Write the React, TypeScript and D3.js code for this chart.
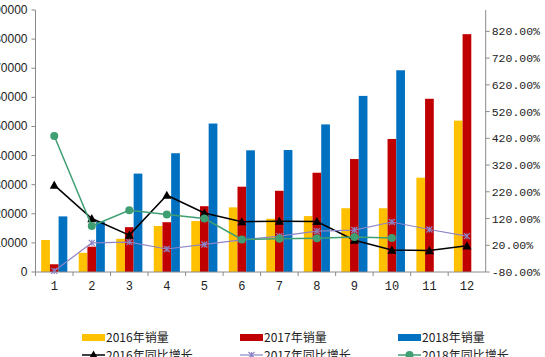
import React from "react";
import * as d3 from "d3";

const months = ["1", "2", "3", "4", "5", "6", "7", "8", "9", "10", "11", "12"];
const sales2016 = [11000, 6600, 11400, 15800, 17500, 22200, 18300, 19200, 21900, 21900, 32400, 52000];
const sales2017 = [2650, 8700, 15400, 17100, 22600, 29300, 27900, 34100, 38800, 45700, 59500, 81700];
const sales2018: (number | null)[] = [19100, 17300, 33800, 40800, 51000, 41800, 41900, 50700, 60500, 69300, null, null];
const growth2016 = [245, 120, 58, 207, 141, 108, 110, 109, 39, 2, 0, 18];
const growth2017 = [-76, 29, 32, 6, 23, 40, 54, 73, 77, 107, 79, 54];
const growth2018: (number | null)[] = [429, 92, 151, 135, 120, 42, 44, 46, 51, 47, null, null];
const leftTicks = [0, 10000, 20000, 30000, 40000, 50000, 60000, 70000, 80000, 90000];
const rightTicks = [-80, 20, 120, 220, 320, 420, 520, 620, 720, 820];
const barLabels = ["2016年销量", "2017年销量", "2018年销量"];
const lineLabels = ["2016年同比增长", "2017年同比增长", "2018年同比增长"];

const W = 545, H = 357;
const X0 = 35.5, X1 = 485.7, Y0 = 272, YT = 10;
const barColors = ["#ffc000", "#c00000", "#0070c0"];
const lineColors = ["#000000", "#8c84c6", "#3f9e72"];
const axisColor = "#8a8a8a";

export default function App() {
  const x = d3.scaleBand<string>().domain(months).range([X0, X1]).padding(0);
  const yL = d3.scaleLinear().domain([0, 90000]).range([Y0, YT]);
  const yR = d3.scaleLinear().domain([-80, 900]).range([Y0, YT]);
  const bw = x.bandwidth() * 0.232;
  const series = [sales2016, sales2017, sales2018];
  const growths = [growth2016, growth2017, growth2018];
  const cx = (m: string) => (x(m) as number) + x.bandwidth() / 2;

  const lineGen = d3
    .line<number | null>()
    .defined((d) => d != null)
    .x((_, i) => cx(months[i]))
    .y((d) => yR(d as number));

  const marker = (k: number, px: number, py: number, key: string) => {
    if (k === 0) {
      const s = 4.5;
      return (
        <path key={key} d={`M${px},${py - s}L${px + s},${py + s * 0.8}L${px - s},${py + s * 0.8}Z`} fill="#000" />
      );
    }
    if (k === 1) {
      const s = 3;
      return (
        <g key={key} stroke={lineColors[1]} strokeWidth={1.2}>
          <line x1={px - s} y1={py - s} x2={px + s} y2={py + s} />
          <line x1={px - s} y1={py + s} x2={px + s} y2={py - s} />
          <line x1={px} y1={py - s} x2={px} y2={py + s} />
        </g>
      );
    }
    return <circle key={key} cx={px} cy={py} r={4} fill={lineColors[2]} />;
  };

  const legendRows = [337.5, 355];
  const legendX = [82, 240, 398];

  return (
    <svg width={W} height={H} style={{ position: "absolute", left: 0, top: 0, background: "#fff" }}>
      <rect x={0} y={0} width={W} height={H} fill="#ffffff" />
      {/* bars */}
      {series.map((s, k) =>
        s.map((v, i) =>
          v == null ? null : (
            <rect
              key={`b${k}-${i}`}
              x={cx(months[i]) - 1.5 * bw + k * bw}
              y={yL(v)}
              width={bw}
              height={Y0 - yL(v)}
              fill={barColors[k]}
            />
          )
        )
      )}
      {/* left axis */}
      <line x1={X0} y1={YT} x2={X0} y2={Y0} stroke={axisColor} />
      {leftTicks.map((t) => (
        <g key={`lt${t}`}>
          <line x1={X0 - 4} x2={X0} y1={yL(t)} y2={yL(t)} stroke={axisColor} />
          <text x={X0 - 8} y={yL(t) + 4} textAnchor="end" fontFamily="Liberation Sans, Arial" fontSize={12} fill="#222">
            {t}
          </text>
        </g>
      ))}
      {/* right axis */}
      <line x1={X1} y1={YT} x2={X1} y2={Y0} stroke={axisColor} />
      {rightTicks.map((t) => (
        <g key={`rt${t}`}>
          <line x1={X1} x2={X1 + 4} y1={yR(t)} y2={yR(t)} stroke={axisColor} />
          <text x={X1 + 6} y={yR(t) + 4} fontFamily="Liberation Mono, monospace" fontSize={11.5} fill="#222">
            {t.toFixed(2) + "%"}
          </text>
        </g>
      ))}
      {/* bottom axis */}
      <line x1={X0} y1={Y0} x2={X1} y2={Y0} stroke={axisColor} />
      {months.map((m, i) => (
        <g key={`bt${m}`}>
          <line x1={x(m) as number} x2={x(m) as number} y1={Y0} y2={Y0 + 4} stroke={axisColor} />
          <text x={cx(m)} y={Y0 + 18} textAnchor="middle" fontFamily="Liberation Mono, monospace" fontSize={12} fill="#222">
            {m}
          </text>
        </g>
      ))}
      {/* lines */}
      {growths.map((g, k) => (
        <g key={`l${k}`}>
          <path d={lineGen(g) || ""} fill="none" stroke={lineColors[k]} strokeWidth={k === 1 ? 1.2 : 1.5} />
          {g.map((v, i) => (v == null ? null : marker(k, cx(months[i]), yR(v), `m${k}-${i}`)))}
        </g>
      ))}
      {/* legend */}
      {barLabels.map((lab, k) => (
        <g key={`lg${k}`}>
          <rect x={legendX[k]} y={legendRows[0] - 3.5} width={23} height={7} fill={barColors[k]} />
          <text x={legendX[k] + 24} y={legendRows[0] + 4.5} fontFamily="Noto Sans CJK SC" fontSize={12} fill="#222">
            {lab}
          </text>
        </g>
      ))}
      {lineLabels.map((lab, k) => (
        <g key={`ll${k}`}>
          <line x1={legendX[k]} x2={legendX[k] + 23} y1={legendRows[1]} y2={legendRows[1]} stroke={lineColors[k]} strokeWidth={k === 1 ? 1.2 : 1.5} />
          {marker(k, legendX[k] + 11.5, legendRows[1], `lm${k}`)}
          <text x={legendX[k] + 24} y={legendRows[1] + 4.5} fontFamily="Noto Sans CJK SC" fontSize={12} fill="#222">
            {lab}
          </text>
        </g>
      ))}
    </svg>
  );
}
